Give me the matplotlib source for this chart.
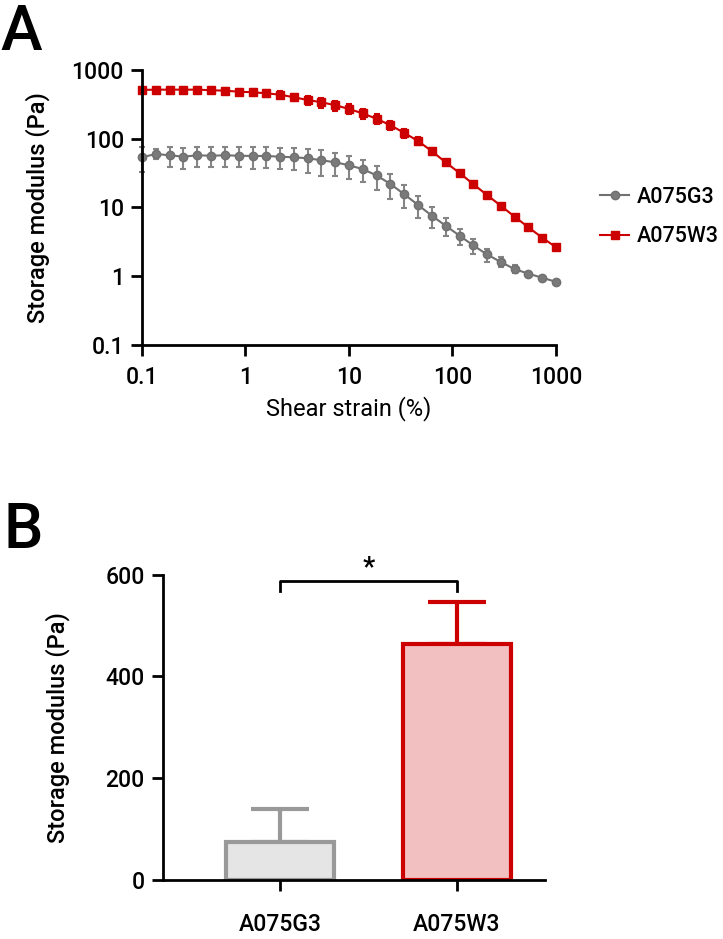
import matplotlib
matplotlib.use("Agg")
import matplotlib.pyplot as plt

plt.rcParams['font.family'] = ['Roboto', 'DejaVu Sans']
plt.rcParams['font.weight'] = 'medium'

# panel A: strain sweep
strain = [0.1, 0.136, 0.185, 0.251, 0.341, 0.464, 0.631, 0.858, 1.17, 1.58,
          2.15, 2.93, 3.98, 5.41, 7.36, 10, 13.6, 18.5, 25.1, 34.1,
          46.4, 63.1, 85.8, 117, 158, 215, 293, 398, 541, 736, 1000]
g3_mean = [53.7, 60, 57.4, 54.8, 57.4, 56.6, 57.4, 56.6, 56.1, 56.1,
           54.8, 53.7, 52.0, 48.6, 45.4, 41.1, 36.1, 29.2, 22.0, 15.6,
           10.9, 7.6, 5.43, 3.89, 2.82, 2.08, 1.61, 1.27, 1.09, 0.95, 0.83]
g3_sd = [21, 10, 18, 19, 18, 18, 18, 18, 20, 19,
         19, 19, 20, 20, 17, 15, 13, 11, 8.6, 5.8,
         3.9, 2.5, 1.6, 1.0, 0.7, 0.45, 0.27, 0.17, 0.08, 0.05, 0.03]
w3_mean = [512, 517, 517, 517, 517, 507, 500, 483, 474, 458,
           437, 401, 366, 339, 307, 271, 233, 195, 157, 122,
           92.7, 65.9, 45.4, 31.7, 22.0, 15.2, 10.6, 7.35, 5.15, 3.64, 2.64]
w3_sd = [50, 50, 50, 50, 50, 50, 50, 50, 50, 50,
         50, 50, 55, 55, 50, 45, 40, 30, 25, 18,
         12, 8, 4, 2.5, 1.5, 0.8, 0.5, 0.3, 0.2, 0.15, 0.1]

# panel B: bar chart
groups = ['A075G3', 'A075W3']
bar_mean = [75, 464]
bar_sd = [64, 83]

gray = '#707070'
red = '#cc0000'

fig = plt.figure(figsize=(7.23, 9.39), dpi=100)

# ---------- A ----------
ax1 = fig.add_axes([0.1964, 0.6326, 0.5726, 0.2929])
ax1.errorbar(strain, g3_mean, yerr=g3_sd, fmt='none', ecolor='#858585',
             elinewidth=1.5, capsize=2.5, capthick=1.5, clip_on=False)
ax1.errorbar(strain, w3_mean, yerr=w3_sd, fmt='none', ecolor=red,
             elinewidth=1.5, capsize=2.5, capthick=1.5, clip_on=False)
ax1.plot(strain, g3_mean, '-o', color=gray, mfc='#7a7a7a', mec=gray,
         ms=6, lw=1.5, label='A075G3', clip_on=False)
ax1.plot(strain, w3_mean, '-s', color=red, mfc=red, mec=red,
         ms=5.5, lw=1.5, label='A075W3', clip_on=False)
ax1.set_xscale('log')
ax1.set_yscale('log')
ax1.set_xlim(0.1, 1000)
ax1.set_ylim(0.1, 1000)
ticks = [0.1, 1, 10, 100, 1000]
tick_labels = ['0.1', '1', '10', '100', '1000']
ax1.set_xticks(ticks)
ax1.set_xticklabels(tick_labels)
ax1.set_yticks(ticks)
ax1.set_yticklabels(tick_labels)
ax1.minorticks_off()
ax1.set_xlabel('Shear strain (%)', fontsize=17, labelpad=5)
ax1.legend(loc='center left', bbox_to_anchor=(0.83, 0.769),
           bbox_transform=fig.transFigure, frameon=False, fontsize=15.5,
           handlelength=1.35, handletextpad=0.35, labelspacing=0.85,
           borderpad=0, borderaxespad=0)
fig.text(0.052, 0.7790, 'Storage modulus (Pa)', rotation=90,
         ha='center', va='center', fontsize=17)

# ---------- B ----------
ax2 = fig.add_axes([0.225, 0.0628, 0.5288, 0.3253])
xpos = [0, 1]
fills = ['#e5e5e5', '#f2c0c0']
edges = ['#999999', red]
ax2.bar(xpos, bar_mean, width=0.615, color=fills, edgecolor=edges,
        linewidth=3, zorder=2)
for i in range(len(xpos)):
    ax2.errorbar(xpos[i], bar_mean[i], yerr=[[0], [bar_sd[i]]], fmt='none',
                 ecolor=edges[i], elinewidth=3, capsize=21, capthick=3,
                 zorder=1)
ax2.set_xlim(-0.663, 1.497)
ax2.set_ylim(0, 600)
ax2.set_yticks([0, 200, 400, 600])
ax2.set_xticks(xpos)
ax2.set_xticklabels(groups)
ax2.plot([0, 0, 1, 1], [567, 588, 588, 567], color='black', lw=2,
         clip_on=False)
ax2.text(0.5, 614, '*', ha='center', va='center', fontsize=20)
fig.text(0.080, 0.2255, 'Storage modulus (Pa)', rotation=90,
         ha='center', va='center', fontsize=17)

for ax in [ax1, ax2]:
    ax.spines['top'].set_visible(False)
    ax.spines['right'].set_visible(False)
    ax.spines['left'].set_linewidth(2)
    ax.spines['bottom'].set_linewidth(2)
    ax.tick_params(width=2, length=8, labelsize=16.5, pad=5)
ax1.tick_params(axis='x', pad=7)
ax2.tick_params(axis='x', pad=16)

fig.text(0.0, 0.9467, 'A', fontsize=45, va='baseline', ha='left')
fig.text(0.005, 0.4164, 'B', fontsize=45, va='baseline', ha='left')

fig.savefig('out.png', dpi=100)
